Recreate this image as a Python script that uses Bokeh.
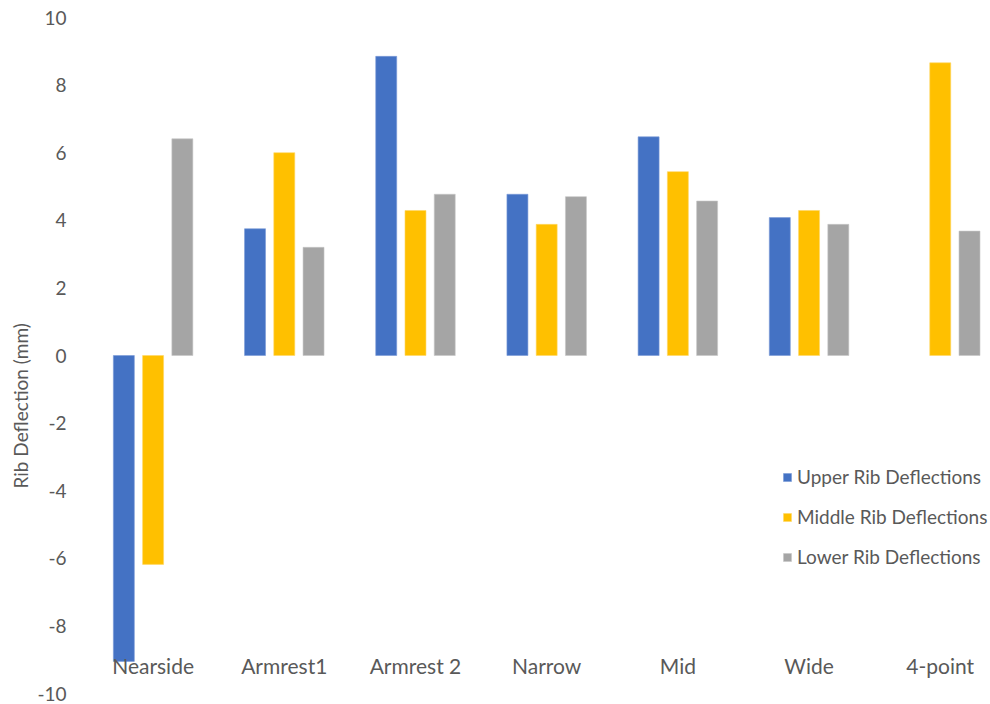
from bokeh.plotting import figure
from bokeh.models import (ColumnDataSource, FixedTicker, Legend, LegendItem,
                          Range1d, Title)
from bokeh.transform import dodge
from bokeh.core.properties import value
from bokeh.embed import file_html
from bokeh.resources import INLINE

# Rib deflections (mm) per impact configuration
categories = ["Nearside", "Armrest1", "Armrest 2", "Narrow", "Mid", "Wide", "4-point"]
upper_rib = [-9.05, 3.75, 8.85, 4.77, 6.47, 4.08, float("nan")]
middle_rib = [-6.18, 6.0, 4.29, 3.88, 5.44, 4.29, 8.66]
lower_rib = [6.41, 3.2, 4.77, 4.7, 4.57, 3.88, 3.68]
y_ticks = [-10, -8, -6, -4, -2, 0, 2, 4, 6, 8, 10]
y_tick_labels = {t: str(t) for t in y_ticks}

FONT = "Lato"
TEXT_COLOR = "#595959"

source = ColumnDataSource(dict(
    x=list(range(len(categories))),
    cat=categories,
    upper=upper_rib,
    middle=middle_rib,
    lower=lower_rib,
    label_y=[-9.17] * len(categories),
))

p = figure(width=990, height=704, output_backend="svg", toolbar_location=None,
           x_range=Range1d(-0.5, 6.383), y_range=Range1d(-10, 10),
           min_border_left=87, min_border_right=0, min_border_top=17,
           min_border_bottom=11)
p.outline_line_color = None
p.xgrid.visible = False
p.ygrid.visible = False
p.xaxis.visible = False

ax = p.yaxis[0]
ax.ticker = FixedTicker(ticks=y_ticks)
ax.major_label_overrides = y_tick_labels
ax.axis_line_color = None
ax.major_tick_line_color = None
ax.minor_tick_line_color = None
ax.major_tick_out = 0
ax.major_label_standoff = 21
ax.major_label_text_font = FONT
ax.major_label_text_font_size = "19px"
ax.major_label_text_color = TEXT_COLOR

# Y title, set a little below the vertical centre of the plot
p.add_layout(Title(text="Rib Deflection (mm)", align="left", offset=205,
                   standoff=6, text_font=FONT, text_font_size="19px",
                   text_font_style="normal", text_color=TEXT_COLOR), "left")

offset = 0.223
bw = 0.16
r_up = p.vbar(x=dodge("x", -offset), top="upper", bottom=0, width=bw, source=source,
              fill_color="#4472C4", line_color="#7b9ad6", line_width=0.6)
r_mid = p.vbar(x=dodge("x", 0), top="middle", bottom=0, width=bw, source=source,
               fill_color="#FFC000", line_color="#ffd766", line_width=0.6)
r_low = p.vbar(x=dodge("x", offset), top="lower", bottom=0, width=bw, source=source,
               fill_color="#A5A5A5", line_color="#c6c6c6", line_width=0.6)

# Category names sit low, inside the plotting area
p.text(x="x", y="label_y", text="cat", source=source, text_align="center",
       text_baseline="middle", text_font=value(FONT), text_font_size="21px",
       text_color=TEXT_COLOR)

legend = Legend(items=[
    LegendItem(label="Upper Rib Deflections", renderers=[r_up]),
    LegendItem(label="Middle Rib Deflections", renderers=[r_mid]),
    LegendItem(label="Lower Rib Deflections", renderers=[r_low]),
], location=(695, 125), border_line_color=None, background_fill_alpha=0,
    glyph_width=10, glyph_height=10, label_standoff=5, label_height=20,
    spacing=17, padding=0, margin=0,
    label_text_font=FONT, label_text_font_size="19px", label_text_color=TEXT_COLOR)
p.add_layout(legend)

open("out.html", "w").write(file_html(p, INLINE))
